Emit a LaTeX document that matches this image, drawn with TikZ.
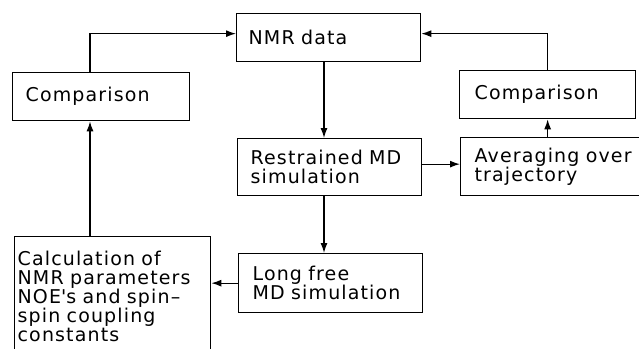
\documentclass[tikz,border=0pt]{standalone}
\usepackage{fontspec}
\setmainfont{DejaVu Sans}[LetterSpace=6]
\usetikzlibrary{positioning, calc, arrows.meta}

\begin{document}
\begin{tikzpicture}[x=1pt,y=-1pt,line width=1.3pt,
        box/.style={draw, anchor=north west, align=left, inner sep=0pt, font=\fontsize{19}{19}\selectfont},
        arr/.style={-{Latex[length=10pt,width=7pt]}}]
        \useasboundingbox (0,0) rectangle (639,348);
        \clip (0,0) rectangle (639,348);
        \node[box, minimum width=184, minimum height=48, text width=160] (nmr) at (236,13) {NMR data};
        \node[box, minimum width=177, minimum height=48, text width=151] (cmpL) at (12,72) {Comparison};
        \node[box, minimum width=176, minimum height=48, text width=146] (cmpR) at (459,70) {Comparison};
        \node[box, minimum width=184, minimum height=57, text width=158] (rmd) at (237,138) {Restrained MD\\simulation};
        \node[box, minimum width=220, minimum height=58, text width=192] (avg) at (460,137) {Averaging over\\trajectory};
        \node[box, minimum width=184, minimum height=59, text width=156] (long) at (238,253) {Long free\\MD simulation};
        \node[box, minimum width=196, minimum height=120, text width=190] (calc) at (14,236) {Calculation of\\NMR parameters\\NOE\textquotesingle s and spin--\\spin coupling\\constants};
        \coordinate (lx) at (90,0);
        \coordinate (mx) at (324,0);
        % connections
        \draw[arr] (cmpL.north -| lx) |- ([yshift=4pt]nmr.west);
        \draw[arr] (cmpR.north) |- ([yshift=4pt]nmr.east);
        \draw[arr] (nmr.south -| mx) -- (rmd.north -| mx);
        \draw[arr] ([yshift=3pt]rmd.east) -- ([yshift=3pt]rmd.east -| avg.west);
        \draw[arr] (avg.north -| cmpR.north) -- (cmpR.south);
        \draw[arr] (rmd.south -| mx) -- (long.north -| mx);
        \draw[arr] (long.west) -- (long.west -| calc.east);
        \draw[arr] (calc.north -| lx) -- (cmpL.south -| lx);
\end{tikzpicture}
\end{document}
